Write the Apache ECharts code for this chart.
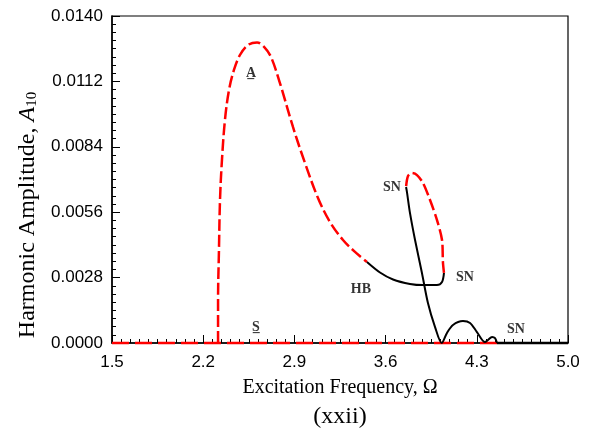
<!DOCTYPE html>
<html>
<head>
<meta charset="utf-8">
<script src="https://cdn.jsdelivr.net/npm/echarts@6/dist/echarts.min.js"></script>
<style>html,body{margin:0;padding:0;background:#fff}#c{width:592px;height:431px}</style>
</head>
<body>
<div id="c"></div>
<script>
// Data
const xMin = 1.5, xMax = 5.0, xStep = 0.7;
const yMin = 0, yMax = 0.014, yStep = 0.0028;

// trivial branch (unstable: red dashed, stable: black)
const zeroUnstable = [[1.5, 0], [4.455, 0]];
const zeroStable = [[4.455, 0], [5.0, 0]];

// branch A, unstable part (red dashed) up to HB
const branchA = [
  [2.314, 0], [2.314, 0.00184], [2.321, 0.00398], [2.329, 0.00612], [2.344, 0.00784],
  [2.367, 0.00955], [2.398, 0.01083], [2.436, 0.01169], [2.482, 0.01233], [2.544, 0.01276],
  [2.613, 0.01287], [2.667, 0.01268], [2.720, 0.01225], [2.789, 0.01113], [2.889, 0.00925],
  [2.981, 0.00771], [3.081, 0.00621], [3.173, 0.00518], [3.273, 0.00441], [3.365, 0.00390],
  [3.457, 0.00347]
];
// stable part from HB to SN (black)
const branchHBSN = [
  [3.457, 0.00347], [3.557, 0.00302], [3.657, 0.00272], [3.787, 0.00253], [3.887, 0.00248],
  [3.994, 0.00248], [4.033, 0.00261], [4.048, 0.00300]
];
// unstable loop between the two SN points (red dashed)
const loopSN = [
  [4.048, 0.00300], [4.040, 0.00347], [4.033, 0.00441], [3.994, 0.00527], [3.941, 0.00612],
  [3.887, 0.00685], [3.841, 0.00719], [3.803, 0.00728], [3.772, 0.00715], [3.757, 0.00668]
];
// stable descending part with the lobes (black)
const branchDown = [
  [3.757, 0.00668], [3.764, 0.00646], [3.787, 0.00557], [3.826, 0.00441], [3.879, 0.00300],
  [3.925, 0.00171], [3.979, 0.00069], [4.031, 0.00000], [4.071, 0.00043], [4.117, 0.00077],
  [4.194, 0.00094], [4.248, 0.00086], [4.301, 0.00047], [4.363, 0.00004], [4.386, 0.00013],
  [4.417, 0.00026], [4.440, 0.00021], [4.455, 0.00000]
];
// point annotations
const notes = [
  {name: 'A\u0332', value: [2.567, 0.01156]},
  {name: 'S\u0332', value: [2.605, 0.00068]},
  {name: 'SN', value: [3.649, 0.00668]},
  {name: 'HB', value: [3.411, 0.00231]},
  {name: 'SN', value: [4.209, 0.00283]},
  {name: 'SN', value: [4.601, 0.00060]}
];

const chart = echarts.init(document.getElementById('c'), null, {renderer: 'canvas'});
const serif = 'Liberation Serif, Times New Roman, serif';
const sans = 'Liberation Sans, Arial, sans-serif';

function lineSeries(data, color, width, dash, smooth) {
  return {
    type: 'line', data: data, showSymbol: false, symbol: 'none', clip: false,
    smooth: smooth, animation: false, silent: true, z: 3,
    lineStyle: {color: color, width: width, type: dash}
  };
}

chart.setOption({
  animation: false,
  backgroundColor: '#fff',
  title: {
    text: '(xxii)', left: 340, top: 405, textAlign: 'center', padding: 0,
    textStyle: {fontFamily: serif, fontSize: 24, fontWeight: 'normal', color: '#000'}
  },
  graphic: [{
    type: 'text', x: 26, y: 215, rotation: Math.PI / 2, silent: true,
    style: {
      text: '{n|Harmonic Amplitude, }{i|A}{s|10}', align: 'center', verticalAlign: 'middle',
      fill: '#000', font: '24px ' + serif,
      rich: {
        n: {fontFamily: serif, fontSize: 24, fill: '#000', verticalAlign: 'bottom', lineHeight: 28},
        i: {fontFamily: serif, fontSize: 24, fontStyle: 'italic', fill: '#000', verticalAlign: 'bottom', lineHeight: 28},
        s: {fontFamily: serif, fontSize: 15, fill: '#000', verticalAlign: 'bottom', lineHeight: 22}
      }
    }
  }],
  grid: {left: 112, top: 16, right: 24, bottom: 88, show: true, borderColor: '#000', borderWidth: 1.2, containLabel: false},
  xAxis: {
    type: 'value', min: xMin, max: xMax, interval: xStep,
    name: 'Excitation Frequency, \u03A9', nameLocation: 'middle', nameGap: 35,
    nameTextStyle: {fontFamily: serif, fontSize: 20, color: '#000'},
    axisLine: {show: true, lineStyle: {color: '#000', width: 1.5}},
    axisTick: {show: true, inside: true, length: 8, lineStyle: {color: '#000', width: 1}},
    minorTick: {show: true, splitNumber: 10, length: 4, lineStyle: {color: '#000', width: 1}},
    axisLabel: {fontFamily: sans, fontSize: 17, color: '#000', margin: 11, formatter: v => v.toFixed(1)},
    splitLine: {show: false}
  },
  yAxis: {
    type: 'value', min: yMin, max: yMax, interval: yStep,
    axisLine: {show: true, lineStyle: {color: '#000', width: 1.5}},
    axisTick: {show: true, inside: true, length: 8, lineStyle: {color: '#000', width: 1}},
    minorTick: {show: true, splitNumber: 8, length: 4, lineStyle: {color: '#000', width: 1}},
    axisLabel: {fontFamily: sans, fontSize: 17, color: '#000', margin: 9, formatter: v => v.toFixed(4)},
    splitLine: {show: false}
  },
  series: [
    lineSeries(zeroUnstable, '#ff0000', 2.5, [17, 6], false),
    lineSeries(zeroStable, '#000000', 2.5, 'solid', false),
    lineSeries(branchA, '#ff0000', 2.5, [12, 4], 0.35),
    lineSeries(branchHBSN, '#000000', 2, 'solid', 0.3),
    lineSeries(loopSN, '#ff0000', 2.5, [12, 4], 0.3),
    lineSeries(branchDown, '#000000', 2, 'solid', 0.3),
    {
      type: 'scatter', data: notes, symbolSize: 0, silent: true, z: 5,
      label: {
        show: true, position: 'inside', formatter: '{b}',
        fontFamily: serif, fontSize: 14, fontWeight: 'bold', color: '#000'
      }
    }
  ]
});
</script>
</body>
</html>
